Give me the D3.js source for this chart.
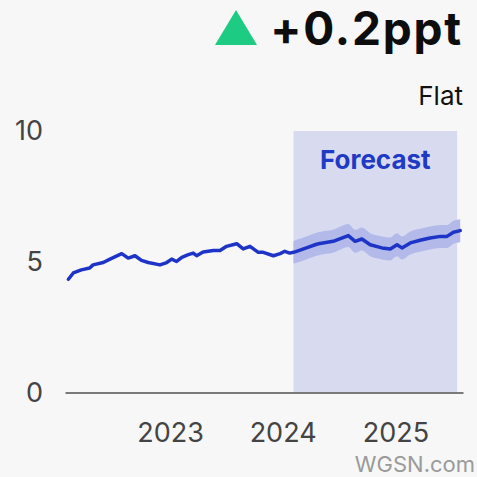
<!DOCTYPE html>
<html><head><meta charset="utf-8">
<script src="https://cdn.jsdelivr.net/npm/d3@7"></script>
<style>
html,body{margin:0;padding:0;background:#f7f7f7;}
svg{display:block;font-family:Inter,Lato,"Noto Sans",sans-serif;}
</style></head>
<body>
<svg id="c" width="477" height="477"></svg>
<script>
// ---- data ----
const actualDates = ["2022-02-05","2022-02-21","2022-03-19","2022-04-15","2022-04-26","2022-05-29","2022-06-20","2022-07-28","2022-08-18","2022-09-09","2022-09-30","2022-10-22","2022-11-29","2022-12-21","2023-01-06","2023-01-22","2023-02-08","2023-03-01","2023-03-17","2023-03-28","2023-04-18","2023-05-21","2023-06-12","2023-07-03","2023-08-05","2023-08-26","2023-09-17","2023-10-14","2023-10-30","2023-12-02","2023-12-24","2024-01-08","2024-01-24","2024-02-05"];
const actualValues = [4.33,4.57,4.69,4.76,4.88,4.97,5.10,5.31,5.14,5.23,5.05,4.97,4.88,4.97,5.10,5.01,5.17,5.27,5.33,5.23,5.37,5.43,5.43,5.59,5.69,5.49,5.59,5.36,5.36,5.23,5.31,5.40,5.33,5.36];
const forecastDates = ["2024-02-05","2024-02-15","2024-03-18","2024-04-20","2024-05-01","2024-06-13","2024-08-01","2024-08-23","2024-09-14","2024-10-11","2024-11-18","2024-12-15","2025-01-06","2025-01-22","2025-02-18","2025-03-22","2025-04-23","2025-05-27","2025-06-17","2025-07-08","2025-07-30"];
const forecastValues = [5.36,5.40,5.53,5.67,5.70,5.78,6.00,5.78,5.87,5.65,5.53,5.49,5.65,5.53,5.72,5.82,5.91,5.97,5.97,6.13,6.19];
const forecastLower = [4.93,4.96,5.09,5.23,5.26,5.34,5.56,5.34,5.43,5.21,5.09,5.05,5.21,5.09,5.28,5.38,5.47,5.53,5.53,5.69,5.75];
const forecastUpper = [5.79,5.84,5.97,6.11,6.14,6.22,6.44,6.22,6.31,6.09,5.97,5.93,6.09,5.97,6.16,6.26,6.35,6.41,6.41,6.57,6.63];
const forecastPeriod = ["2024-02-05","2025-07-20"];
const yTicks = [0,5,10];
const xTickYears = [2023,2024,2025];
const changeLabel = "+0.2ppt";
const statusLabel = "Flat";
const forecastLabel = "Forecast";
const sourceLabel = "WGSN.com";

// ---- setup ----
const parse = d3.utcParse("%Y-%m-%d");
const svg = d3.select("#c");
const x = d3.scaleUtc().domain([parse("2022-01-25"), parse("2025-08-08")]).range([65, 463]);
const y = d3.scaleLinear().domain([0, 10]).range([392.5, 131]);

const actual = actualDates.map((d,i)=>({date:parse(d), v:actualValues[i]}));
const fc = forecastDates.map((d,i)=>({date:parse(d), v:forecastValues[i], lo:forecastLower[i], hi:forecastUpper[i]}));

// forecast background
svg.append("rect")
  .attr("x", x(parse(forecastPeriod[0])))
  .attr("y", y(10))
  .attr("width", x(parse(forecastPeriod[1])) - x(parse(forecastPeriod[0])))
  .attr("height", y(0) - y(10))
  .attr("fill", "#d8dbef");

svg.append("text")
  .attr("x", (x(parse(forecastPeriod[0])) + x(parse(forecastPeriod[1]))) / 2)
  .attr("y", 169)
  .attr("text-anchor", "middle")
  .attr("font-size", 26)
  .attr("font-weight", 700)
  .attr("fill", "#1f3ac4")
  .text(forecastLabel);

// y axis
const yAxis = svg.append("g").attr("transform", "translate(50,0)")
  .call(d3.axisLeft(y).tickValues(yTicks).tickSize(0).tickPadding(7).tickFormat(d3.format("d")));
yAxis.select(".domain").remove();
yAxis.selectAll("text").attr("font-size", 27).attr("fill", "#444").attr("font-family", "Inter");

// x axis
const xAxis = svg.append("g").attr("transform", "translate(0,392.5)")
  .call(d3.axisBottom(x).tickValues(xTickYears.map(yr=>new Date(Date.UTC(yr,0,1)))).tickSize(0).tickSizeOuter(0).tickFormat(d3.utcFormat("%Y")));
xAxis.select(".domain").attr("stroke", "#7a7a7a").attr("stroke-width", 2);
xAxis.selectAll("text").attr("font-size", 27).attr("fill", "#444").attr("font-family", "Inter")
  .attr("y", 49).attr("dy", 0);

// band
svg.append("path").datum(fc)
  .attr("d", d3.area().x(d=>x(d.date)).y0(d=>y(d.lo)).y1(d=>y(d.hi)).curve(d3.curveMonotoneX))
  .attr("fill", "#b3baea");

// lines
const line = d3.line().x(d=>x(d.date)).y(d=>y(d.v));
svg.append("path").datum(actual.concat(fc.slice(1)))
  .attr("d", line)
  .attr("fill", "none").attr("stroke", "#1e34c6").attr("stroke-width", 3.5).attr("stroke-linejoin", "round").attr("stroke-linecap", "round");

// header
const triX = 236, triTop = 10, triBot = 45, triHalf = 21;
svg.append("path")
  .attr("d", d3.line()([[triX - triHalf, triBot], [triX, triTop], [triX + triHalf, triBot]]) + "Z")
  .attr("fill", "#1dcb83");
svg.append("text").attr("x", 463).attr("y", 45).attr("text-anchor", "end")
  .attr("font-size", 46).attr("font-weight", 700).attr("letter-spacing", 1.8).attr("fill", "#0d0d0d").text(changeLabel);
svg.append("text").attr("x", 463).attr("y", 105).attr("text-anchor", "end")
  .attr("font-size", 26).attr("fill", "#111").text(statusLabel);
svg.append("text").attr("x", 475).attr("y", 472).attr("text-anchor", "end")
  .attr("font-size", 22).attr("fill", "#9a9a9a").text(sourceLabel);
</script>
</body></html>
